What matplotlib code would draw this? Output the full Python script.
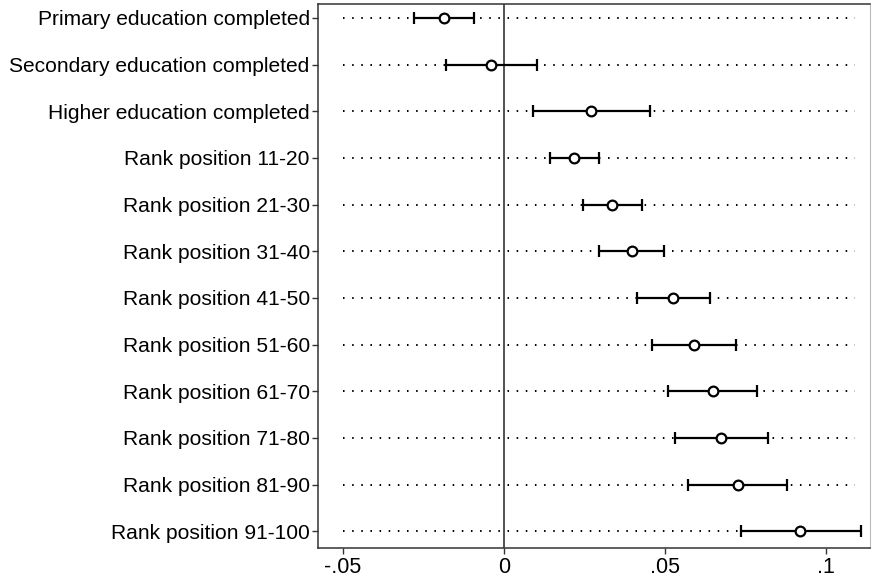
import matplotlib
matplotlib.use("Agg")
import matplotlib.pyplot as plt
import numpy as np

labels = [
    "Primary education completed",
    "Secondary education completed",
    "Higher education completed",
    "Rank position 11-20",
    "Rank position 21-30",
    "Rank position 31-40",
    "Rank position 41-50",
    "Rank position 51-60",
    "Rank position 61-70",
    "Rank position 71-80",
    "Rank position 81-90",
    "Rank position 91-100",
]
coef = [-0.0187, -0.0040, 0.0270, 0.0217, 0.0336, 0.0397, 0.0525, 0.0590,
        0.0648, 0.0674, 0.0728, 0.0919]
ci_low = [-0.0280, -0.0180, 0.0089, 0.0143, 0.0246, 0.0296, 0.0412, 0.0461,
          0.0510, 0.0531, 0.0572, 0.0736]
ci_high = [-0.0093, 0.0103, 0.0453, 0.0295, 0.0428, 0.0496, 0.0640, 0.0720,
           0.0787, 0.0819, 0.0880, 0.1108]
xticks = [-0.05, 0, 0.05, 0.1]
xtick_labels = ["-.05", "0", ".05", ".1"]

plt.rcParams['font.family'] = ['Liberation Sans', 'DejaVu Sans']

fig = plt.figure(figsize=(8.72, 5.8), dpi=100)
ax = fig.add_axes([0.3647, 0.0552, 0.633, 0.9379])

y = np.arange(len(labels)) + 1
coef = np.array(coef); lo = np.array(ci_low); hi = np.array(ci_high)

# dotted guide lines for each row
ax.hlines(y, -0.05, 0.109, colors='black', linestyles=(0, (0.8, 3.9)), lw=1.4, zorder=1)
ax.axvline(0, color='#222222', lw=1.1, zorder=2)

ax.errorbar(coef, y, xerr=[coef - lo, hi - coef], fmt='o', color='black',
            mfc='white', mec='black', ms=7, mew=1.6, elinewidth=1.6,
            capsize=4, capthick=1.6, zorder=3)

ax.set_xlim(-0.0578, 0.1137)
ax.set_ylim(12.36, 0.70)
ax.set_yticks(y)
ax.set_yticklabels(labels, fontsize=15.1)
ax.set_xticks(xticks)
ax.set_xticklabels(xtick_labels, fontsize=15.5)
ax.tick_params(axis='both', length=4.5, width=1, color='#333333')
ax.tick_params(axis='y', pad=1.5)
ax.tick_params(axis='x', pad=2)

for s in ['left', 'bottom', 'top']:
    ax.spines[s].set_color('#333333')
    ax.spines[s].set_linewidth(1.1)
ax.spines['right'].set_color('#bbbbbb')

fig.savefig("out.png", dpi=100, facecolor='white')
